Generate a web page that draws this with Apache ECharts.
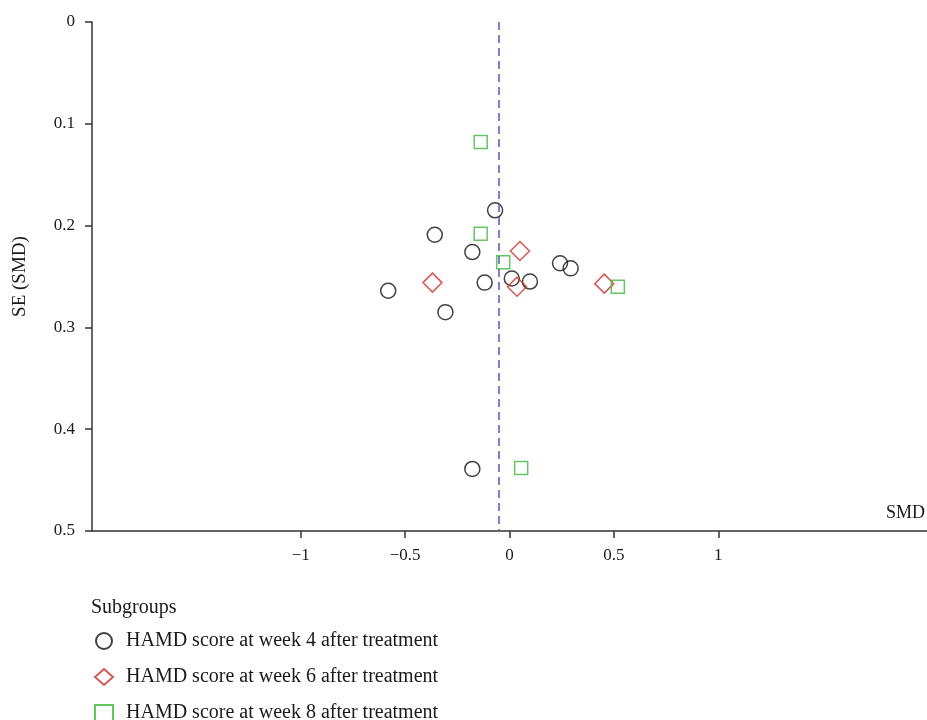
<!DOCTYPE html>
<html>
<head>
<meta charset="utf-8">
<script src="https://cdn.jsdelivr.net/npm/echarts@6/dist/echarts.min.js"></script>
<style>
html,body{margin:0;padding:0;background:#fff;}
#funnelChart{width:927px;height:720px;}
</style>
</head>
<body>
<div id="funnelChart"></div>
<script>
// SMD / SE(SMD) pairs per subgroup
var week4Smd = [-0.069, -0.358, -0.178, -0.119, -0.581, -0.307, 0.011, 0.098, 0.242, 0.293, -0.178];
var week4Se  = [0.185, 0.209, 0.226, 0.256, 0.264, 0.285, 0.252, 0.255, 0.237, 0.242, 0.439];
var week6Smd = [0.050, -0.369, 0.036, 0.454];
var week6Se  = [0.225, 0.256, 0.260, 0.257];
var week8Smd = [-0.138, -0.138, -0.030, 0.519, 0.056];
var week8Se  = [0.118, 0.208, 0.236, 0.260, 0.438];
var pooledSmd = -0.047;
var xTickValues = [-1, -0.5, 0, 0.5, 1];
var seriesNames = ['HAMD score at week 4 after treatment', 'HAMD score at week 6 after treatment', 'HAMD score at week 8 after treatment'];

function pairs(xs, ys){
    return xs.map(function(x, i){ return [x, ys[i]]; });
}
function minusSign(v){
    return String(v).replace('-', '\u2212');
}

var serif = '"Liberation Serif", "DejaVu Serif", serif';
var chart = echarts.init(document.getElementById('funnelChart'));
var option = {
    backgroundColor: '#fff',
    animation: false,
    title: {
        text: 'Subgroups',
        left: 91,
        top: 598,
        padding: 0,
        textStyle: {fontFamily: serif, fontSize: 20, fontWeight: 'normal', color: '#1a1a1a'}
    },
    // horizontal with a narrow width so each entry wraps onto its own line
    legend: {
        orient: 'horizontal',
        left: 94,
        top: 631,
        width: 380,
        padding: 0,
        itemWidth: 18,
        itemHeight: 16,
        itemGap: 16,
        textStyle: {fontFamily: serif, fontSize: 20, color: '#1a1a1a', padding: [0, 0, 0, 8]},
        data: seriesNames
    },
    graphic: [{
        type: 'text',
        right: 2,
        top: 504,
        style: {text: 'SMD', font: '18px ' + serif, fill: '#1a1a1a'}
    }],
    grid: {left: 92, top: 22, right: 0, bottom: 189},
    xAxis: {
        type: 'value',
        min: -2,
        max: 2,
        interval: 0.5,
        splitLine: {show: false},
        axisLine: {onZero: false, lineStyle: {color: '#333', width: 1.5}},
        axisTick: {customValues: xTickValues, length: 7, lineStyle: {color: '#333', width: 1.5}},
        axisLabel: {
            customValues: xTickValues,
            margin: 16,
            fontFamily: serif,
            fontSize: 17,
            color: '#1a1a1a',
            formatter: minusSign
        }
    },
    yAxis: {
        type: 'value',
        inverse: true,
        min: 0,
        max: 0.5,
        interval: 0.1,
        name: 'SE (SMD)',
        nameLocation: 'middle',
        nameGap: 62,
        nameRotate: 90,
        nameTextStyle: {fontFamily: serif, fontSize: 19, color: '#1a1a1a'},
        splitLine: {show: false},
        axisLine: {onZero: false, lineStyle: {color: '#333', width: 1.5}},
        axisTick: {length: 7, lineStyle: {color: '#333', width: 1.5}},
        axisLabel: {margin: 17, fontFamily: serif, fontSize: 17, color: '#1a1a1a'}
    },
    series: [{
        name: seriesNames[0],
        type: 'scatter',
        symbol: 'circle',
        symbolSize: 15,
        itemStyle: {color: 'rgba(0,0,0,0)', borderColor: '#111', borderWidth: 1.5},
        data: pairs(week4Smd, week4Se),
        markLine: {
            silent: true,
            symbol: 'none',
            label: {show: false},
            lineStyle: {color: '#5b55b5', type: [8, 5], width: 1.5},
            data: [{xAxis: pooledSmd}]
        }
    }, {
        name: seriesNames[1],
        type: 'scatter',
        symbol: 'diamond',
        symbolSize: 19,
        itemStyle: {color: 'rgba(0,0,0,0)', borderColor: '#cc2e28', borderWidth: 1.5},
        data: pairs(week6Smd, week6Se)
    }, {
        name: seriesNames[2],
        type: 'scatter',
        symbol: 'rect',
        symbolSize: 13,
        itemStyle: {color: 'rgba(0,0,0,0)', borderColor: '#3db83a', borderWidth: 1.5},
        data: pairs(week8Smd, week8Se)
    }]
};
chart.setOption(option);
window.addEventListener('resize', function(){ chart.resize(); });
</script>
</body>
</html>
